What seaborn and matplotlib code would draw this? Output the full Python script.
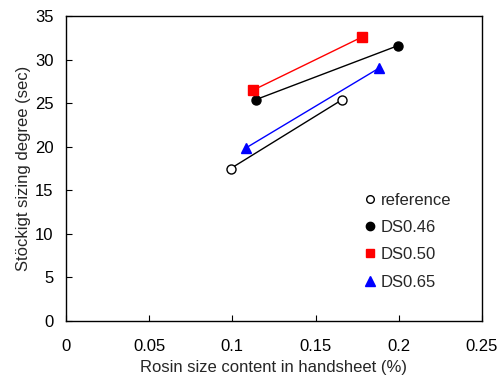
import matplotlib
matplotlib.use("Agg")
import matplotlib.pyplot as plt
from matplotlib.lines import Line2D
import seaborn as sns
import pandas as pd

# Rosin size content (%) and Stöckigt sizing degree (sec) per series
series_names = ["reference", "DS0.46", "DS0.50", "DS0.65"]
rosin_content = {
    "reference": [0.099, 0.166],
    "DS0.46": [0.114, 0.1995],
    "DS0.50": [0.1125, 0.178],
    "DS0.65": [0.1085, 0.188],
}
sizing_degree = {
    "reference": [17.5, 25.4],
    "DS0.46": [25.4, 31.6],
    "DS0.50": [26.5, 32.6],
    "DS0.65": [19.9, 29.0],
}

line_colors = {"reference": "black", "DS0.46": "black", "DS0.50": "red", "DS0.65": "blue"}
marker_face = {"reference": "white", "DS0.46": "black", "DS0.50": "red", "DS0.65": "blue"}
marker_edge = {"reference": "black", "DS0.46": "black", "DS0.50": "red", "DS0.65": "blue"}
marker_shape = {"reference": "o", "DS0.46": "o", "DS0.50": "s", "DS0.65": "^"}
marker_size = {"reference": 6.5, "DS0.46": 6.5, "DS0.50": 6.5, "DS0.65": 7.5}

rows = []
for name in series_names:
    for x, y in zip(rosin_content[name], sizing_degree[name]):
        rows.append({"series": name, "x": x, "y": y})
df = pd.DataFrame(rows)

sns.set_style("ticks")
plt.rcParams["font.family"] = ["Liberation Sans", "DejaVu Sans"]
plt.rcParams["font.size"] = 12

fig = plt.figure(figsize=(5.04, 3.83), dpi=100)
ax = fig.add_axes([0.131, 0.162, 0.825, 0.796])

for name in series_names:
    sub = df[df["series"] == name]
    sns.lineplot(data=sub, x="x", y="y", ax=ax, color=line_colors[name],
                 linewidth=1.0, marker=marker_shape[name],
                 markersize=marker_size[name],
                 markerfacecolor=marker_face[name],
                 markeredgecolor=marker_edge[name],
                 markeredgewidth=1.0, legend=False, sort=False)

ax.set_xlim(0, 0.25)
ax.set_ylim(0, 35)
ax.set_xticks([0, 0.05, 0.1, 0.15, 0.2, 0.25])
ax.set_xticklabels(["0", "0.05", "0.1", "0.15", "0.2", "0.25"])
ax.set_yticks(range(0, 36, 5))
ax.tick_params(direction="in", length=4, width=0.8, colors="black", labelsize=12)
ax.tick_params(axis="x", pad=13)
ax.tick_params(axis="y", pad=9)
for sp in ax.spines.values():
    sp.set_visible(True)
    sp.set_color("black")
    sp.set_linewidth(1.0)

ax.set_xlabel("Rosin size content in handsheet (%)", fontsize=12, labelpad=4)
ax.set_ylabel("Stöckigt sizing degree (sec)", fontsize=12, labelpad=3)

handles = [
    Line2D([], [], linestyle="none", marker=marker_shape[n],
           markersize=(5.5 if n == "reference" else marker_size[n] - 0.5),
           markerfacecolor=marker_face[n],
           markeredgecolor=marker_edge[n], markeredgewidth=1.0)
    for n in series_names
]
ax.legend(handles, series_names, loc="upper left", bbox_to_anchor=(0.7, 0.443),
          frameon=False, handlelength=0.7, handletextpad=0.3, labelspacing=0.74,
          fontsize=12, borderaxespad=0)

fig.savefig("out.png", dpi=100)
